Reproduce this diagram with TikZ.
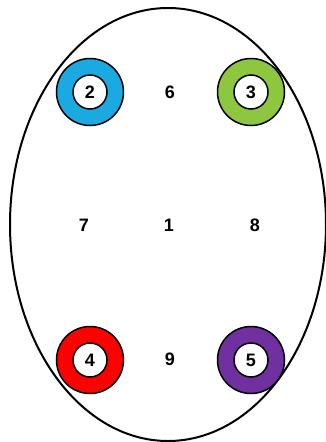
\documentclass[tikz,border=0pt]{standalone}
\usepackage{fontspec}
\setmainfont{Liberation Sans}
\usetikzlibrary{shapes.geometric}
\definecolor{cblue}{HTML}{1BA9E2}
\definecolor{cgreen}{HTML}{8DC63F}
\definecolor{cred}{HTML}{FF0000}
\definecolor{cpurple}{HTML}{7030A0}
\begin{document}
\begin{tikzpicture}[x=1pt,y=-1pt,
  ring/.style={circle,draw=black,line width=1.5pt,minimum size=67pt,inner sep=0pt},
  hole/.style={circle,draw=black,fill=white,line width=1.5pt,minimum size=34pt,inner sep=0pt,font=\fontsize{18}{18}\selectfont\bfseries},
  lbl/.style={font=\fontsize{18}{18}\selectfont\bfseries,inner sep=0pt}]
\useasboundingbox (0,0) rectangle (326,442);
\node[ellipse,draw=black,line width=2pt,minimum width=316pt,minimum height=433pt,inner sep=0pt] (body) at (168,224.5) {};
\node[ring,fill=cblue] (r2) at (90,92) {};
\node[hole] (h2) at (r2.center) {2};
\node[ring,fill=cgreen] (r3) at (251,92) {};
\node[hole] (h3) at (r3.center) {3};
\node[ring,fill=cred] (r4) at (90,360) {};
\node[hole] (h4) at (r4.center) {4};
\node[ring,fill=cpurple] (r5) at (251,360) {};
\node[hole] (h5) at (r5.center) {5};
\node[lbl] (l6) at (170,92) {6};
\node[lbl] (l7) at (84,225) {7};
\node[lbl] (l1) at (169,225) {1};
\node[lbl] (l8) at (255,225) {8};
\node[lbl] (l9) at (170,359) {9};
\end{tikzpicture}
\end{document}
